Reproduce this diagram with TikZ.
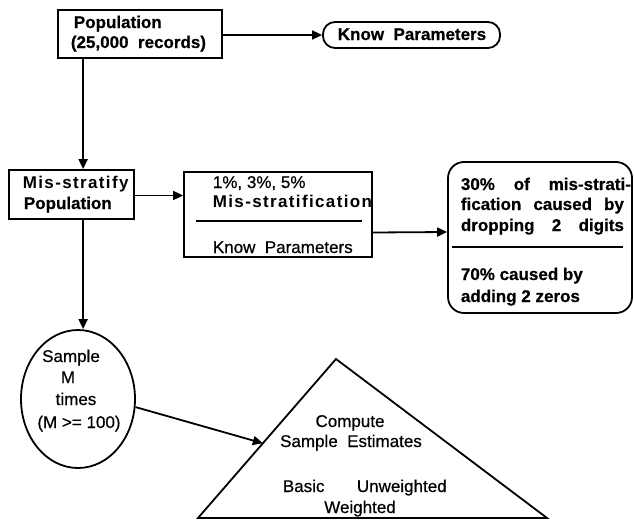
\documentclass[tikz,border=0pt]{standalone}
\usepackage{fontspec}
\setmainfont{Liberation Sans}[FakeBold=0.6]
\newfontfamily\spbold[LetterSpace=8]{Liberation Sans Bold}
\usetikzlibrary{arrows.meta,shapes.geometric,calc}
\begin{document}
\begin{tikzpicture}[x=1pt,y=-1pt,line width=1.8pt,
  font=\fontsize{17}{20}\selectfont,
  arr/.style={-{Triangle[length=10pt,width=9pt]}},
  box/.style={draw,inner sep=0pt},
  tl/.style={inner sep=0pt,anchor=base west},
  tc/.style={inner sep=0pt,anchor=base},
  bf/.style={font=\fontsize{17}{20}\selectfont\bfseries},
  sp/.style={font=\fontsize{17}{20}\selectfont\spbold}]
\useasboundingbox (0,0) rectangle (634,522);
% Population
\node[box,minimum width=164pt,minimum height=48pt] (pop) at (140,34) {};
\node[tl,bf] (pop1) at (73,28) {Population};
\node[tl,bf] (pop2) at (70,48) {(25,000~~records)};
% Know Parameters (top)
\node[box,rounded corners=12pt,minimum width=177pt,minimum height=26pt] (know) at (411.5,35) {};
\node[tc,bf] (know1) at (412,40) {Know~~Parameters};
\draw[arr] (pop.east |- know.west) -- (know.west);
% Mis-stratify
\node[box,minimum width=125pt,minimum height=49pt] (mis) at (71.5,194.5) {};
\node[tl,sp] (mis1) at (22,188) {Mis-stratify};
\node[tl,bf] (mis2) at (23,209) {Population};
\draw[arr] ([xshift=26pt]pop.south west) -- ([xshift=26pt]pop.south west |- mis.north);
% Middle box
\node[box,minimum width=188pt,minimum height=85pt] (mid) at (278,214.5) {};
\node[tl] (mid1) at (212,188) {1\%, 3\%, 5\%};
\node[tl,sp] (mid2) at (212,207) {Mis-stratification};
\node[tl] (mid3) at (212,253) {Know~~Parameters};
\coordinate (d1a) at (196,221);
\coordinate (d1b) at (362,221);
\draw (d1a) -- (d1b);
\draw[arr] ([yshift=-1pt]mis.east) -- ([yshift=-1pt]mis.east -| mid.west);
% Right box
\node[box,rounded corners=16pt,minimum width=184pt,minimum height=151pt] (rb) at (540,237.5) {};
\node[tl,bf] (rb1) at (460,190) {\makebox[170pt][s]{30\% of mis-strati-}};
\node[tl,bf] (rb2) at (460,210) {\makebox[163pt][s]{fication caused by}};
\node[tl,bf] (rb3) at (460,231) {\makebox[163pt][s]{dropping 2 digits}};
\node[tl,bf] (rb4) at (460,280) {70\% caused by};
\node[tl,bf] (rb5) at (460,302) {adding~2~zeros};
\coordinate (d2a) at (452,247);
\coordinate (d2b) at (623,247);
\draw (d2a) -- (d2b);
\draw[arr] ([yshift=-18pt]mid.east) -- ([yshift=5.5pt]rb.west);
% Ellipse
\node[draw,ellipse,inner sep=0pt,minimum width=114pt,minimum height=138pt] (ell) at (78,399) {};
\node[tc] (e1) at (71,362) {Sample};
\node[tc] (e2) at (68,383) {M};
\node[tc] (e3) at (76,405) {times};
\node[tc] (e4) at (79,428) {(M >= 100)};
\draw[arr] ([xshift=75pt]mis.south west) -- ([xshift=75pt]mis.south west |- ell.north);
% Triangle
\coordinate (tap) at (336,359);
\coordinate (tbl) at (198,518);
\coordinate (tbr) at (547,518);
\draw (tap) -- (tbl) -- (tbr) -- cycle;
\coordinate (tin) at ($(tbl)!0.47!(tap)$);
\node[tc] (t1) at (350,427) {Compute};
\node[tc] (t2) at (351,447) {Sample~~Estimates};
\node[tl] (t3) at (282,492) {Basic};
\node[tl] (t4) at (356,492) {Unweighted};
\node[tc] (t5) at (360,513) {Weighted};
\draw[arr] (ell.-8) -- (tin);
\end{tikzpicture}
\end{document}
